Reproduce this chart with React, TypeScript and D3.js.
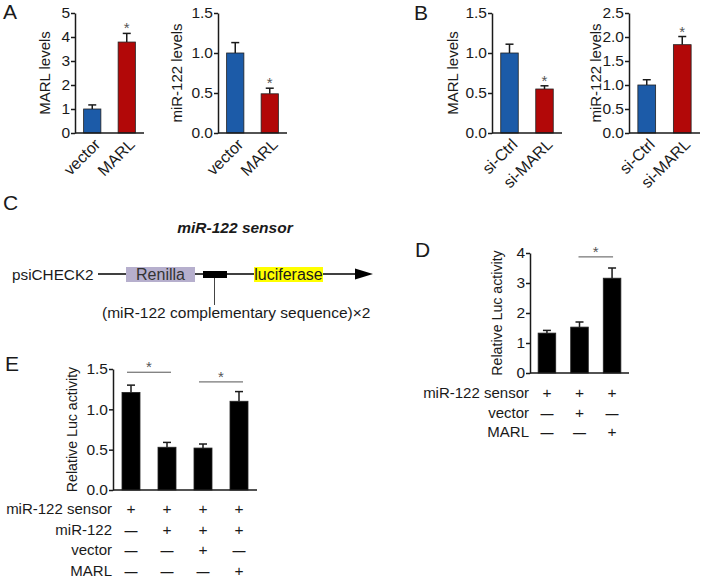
import React, { useEffect, useRef } from 'react';
import * as d3 from 'd3';

const FONT = '"Liberation Sans", Arial, Helvetica, sans-serif';
const INK = '#1a1a1a';
const BLUE = '#1c5ba8';
const RED = '#b20808';

// Panel A: overexpression
const overGroups = ['vector', 'MARL'];
const overMarl = [1.0, 3.79];
const overMarlErr = [0.17, 0.36];
const overMir = [1.0, 0.49];
const overMirErr = [0.13, 0.07];

// Panel B: knockdown
const kdGroups = ['si-Ctrl', 'si-MARL'];
const kdMarl = [1.0, 0.55];
const kdMarlErr = [0.11, 0.04];
const kdMir = [1.0, 1.84];
const kdMirErr = [0.11, 0.17];

// Panel D: luciferase, MARL overexpression
const lucDValues = [1.33, 1.53, 3.16];
const lucDErr = [0.09, 0.17, 0.34];
const lucDRows = ['miR-122 sensor', 'vector', 'MARL'];
const lucDSigns = [
  ['+', '+', '+'],
  ['-', '+', '-'],
  ['-', '-', '+'],
];

// Panel E: luciferase with miR-122
const lucEValues = [1.21, 0.53, 0.52, 1.10];
const lucEErr = [0.09, 0.06, 0.05, 0.12];
const lucERows = ['miR-122 sensor', 'miR-122', 'vector', 'MARL'];
const lucESigns = [
  ['+', '+', '+', '+'],
  ['-', '+', '+', '+'],
  ['-', '-', '+', '-'],
  ['-', '-', '-', '+'],
];

const ticks0to5 = [0, 1, 2, 3, 4, 5];
const ticks0to15 = [0, 0.5, 1.0, 1.5];
const ticks0to25 = [0, 0.5, 1.0, 1.5, 2.0, 2.5];
const ticks0to4 = [0, 1, 2, 3, 4];

interface SigLine { a: number; b: number; level: number; ext: number; }

interface Panel {
  groups?: string[];
  values: number[];
  errors: number[];
  colors: string[];
  stars?: boolean[];
  yMax: number;
  ticks: number[];
  fmt: string;
  left: number;
  right: number;
  top: number;
  bottom: number;
  padInner: number;
  yLabel: string;
  yLabelX: number;
  yLabelSize: number;
  sig?: SigLine[];
  rows?: string[];
  signs?: string[][];
  rowStart?: number;
  rowStep?: number;
}

function drawPanel(root: d3.Selection<SVGSVGElement, unknown, null, undefined>, p: Panel) {
  const g = root.append('g');
  const idx = d3.range(p.values.length);
  const x = d3.scaleBand<number>()
    .domain(idx)
    .range([p.left, p.right])
    .paddingInner(p.padInner)
    .paddingOuter(0.25);
  const y = d3.scaleLinear().domain([0, p.yMax]).range([p.bottom, p.top]);
  const cx = (i: number) => (x(i) || 0) + x.bandwidth() / 2;

  // error bars (upper only)
  g.selectAll('line.err')
    .data(idx)
    .join('line')
    .attr('x1', cx).attr('x2', cx)
    .attr('y1', i => y(p.values[i]))
    .attr('y2', i => y(p.values[i] + p.errors[i]))
    .attr('stroke', INK).attr('stroke-width', 1.5);
  g.selectAll('line.cap')
    .data(idx)
    .join('line')
    .attr('x1', i => cx(i) - 4).attr('x2', i => cx(i) + 4)
    .attr('y1', i => y(p.values[i] + p.errors[i]))
    .attr('y2', i => y(p.values[i] + p.errors[i]))
    .attr('stroke', INK).attr('stroke-width', 1.5);

  // bars
  g.selectAll('rect.bar')
    .data(idx)
    .join('rect')
    .attr('x', i => x(i) || 0)
    .attr('y', i => y(p.values[i]))
    .attr('width', x.bandwidth())
    .attr('height', i => y(0) - y(p.values[i]))
    .attr('fill', i => p.colors[i])
    .attr('stroke', '#222')
    .attr('stroke-width', 0.8);

  // asterisks over bars
  if (p.stars) {
    g.selectAll('text.star')
      .data(idx.filter(i => p.stars![i]))
      .join('text')
      .attr('x', cx)
      .attr('y', i => y(p.values[i] + p.errors[i]))
      .attr('text-anchor', 'middle')
      .attr('font-family', FONT)
      .attr('font-size', 15)
      .attr('fill', '#555')
      .text('*');
  }

  // y axis
  const ax = g.append('g')
    .attr('transform', `translate(${p.left},0)`)
    .call(d3.axisLeft(y).tickValues(p.ticks).tickFormat(d3.format(p.fmt)).tickSize(4).tickSizeOuter(0).tickPadding(1));
  ax.select('.domain').attr('stroke', INK).attr('stroke-width', 1.5);
  ax.selectAll('.tick line').attr('stroke', INK).attr('stroke-width', 1.5);
  ax.selectAll('.tick text')
    .attr('font-family', FONT)
    .attr('font-size', 15.5)
    .attr('fill', INK);

  // x baseline
  g.append('line')
    .attr('x1', p.left).attr('x2', p.right)
    .attr('y1', p.bottom).attr('y2', p.bottom)
    .attr('stroke', INK).attr('stroke-width', 1.5);

  // y label
  g.append('text')
    .attr('transform', `translate(${p.yLabelX},${(p.top + p.bottom) / 2}) rotate(-90)`)
    .attr('text-anchor', 'middle')
    .attr('font-family', FONT)
    .attr('font-size', p.yLabelSize)
    .attr('fill', INK)
    .text(p.yLabel);

  // rotated group labels
  if (p.groups) {
    g.selectAll('text.grp')
      .data(idx)
      .join('text')
      .attr('transform', i => `translate(${cx(i) + 9},${p.bottom + 12.5}) rotate(-45)`)
      .attr('text-anchor', 'end')
      .attr('font-family', FONT)
      .attr('font-size', 16)
      .attr('fill', INK)
      .text(i => p.groups![i]);
  }

  // significance brackets
  if (p.sig) {
    p.sig.forEach(s => {
      const ly = y(s.level);
      g.append('line')
        .attr('x1', cx(s.a) - s.ext).attr('x2', cx(s.b) + s.ext)
        .attr('y1', ly).attr('y2', ly)
        .attr('stroke', '#555').attr('stroke-width', 1);
      g.append('text')
        .attr('x', (cx(s.a) + cx(s.b)) / 2)
        .attr('y', ly)
        .attr('text-anchor', 'middle')
        .attr('font-family', FONT)
        .attr('font-size', 15)
        .attr('fill', '#555')
        .text('*');
    });
  }

  // condition table
  if (p.rows && p.signs) {
    p.rows.forEach((label, r) => {
      const by = (p.rowStart || 0) + r * (p.rowStep || 20);
      g.append('text')
        .attr('x', p.left - 1)
        .attr('y', by)
        .attr('text-anchor', 'end')
        .attr('font-family', FONT)
        .attr('font-size', 15)
        .attr('fill', INK)
        .text(label);
      g.selectAll(`text.sign${r}`)
        .data(idx)
        .join('text')
        .attr('x', cx)
        .attr('y', by)
        .attr('text-anchor', 'middle')
        .attr('font-family', FONT)
        .attr('font-size', i => (p.signs![r][i] === '+' ? 15.5 : 13))
        .attr('font-weight', i => (p.signs![r][i] === '+' ? 'normal' : 'bold'))
        .attr('fill', INK)
        .text(i => (p.signs![r][i] === '+' ? '+' : '\u2014'));
    });
  }
}

const App: React.FC = () => {
  const svgRef = useRef<SVGSVGElement>(null);

  useEffect(() => {
    if (!svgRef.current) return;
    const svg = d3.select(svgRef.current);
    svg.selectAll('*').remove();

    const panels: Panel[] = [
      {
        groups: overGroups, values: overMarl, errors: overMarlErr, colors: [BLUE, RED], stars: [false, true],
        yMax: 5, ticks: ticks0to5, fmt: 'd', left: 75, right: 144, top: 13, bottom: 133,
        padInner: 0.5, yLabel: 'MARL levels', yLabelX: 50, yLabelSize: 15,
      },
      {
        groups: overGroups, values: overMir, errors: overMirErr, colors: [BLUE, RED], stars: [false, true],
        yMax: 1.5, ticks: ticks0to15, fmt: '.1f', left: 218, right: 287, top: 13, bottom: 133,
        padInner: 0.5, yLabel: 'miR-122 levels', yLabelX: 182, yLabelSize: 15,
      },
      {
        groups: kdGroups, values: kdMarl, errors: kdMarlErr, colors: [BLUE, RED], stars: [false, true],
        yMax: 1.5, ticks: ticks0to15, fmt: '.1f', left: 492, right: 562, top: 13, bottom: 133,
        padInner: 0.5, yLabel: 'MARL levels', yLabelX: 458, yLabelSize: 15,
      },
      {
        groups: kdGroups, values: kdMir, errors: kdMirErr, colors: [BLUE, RED], stars: [false, true],
        yMax: 2.5, ticks: ticks0to25, fmt: '.1f', left: 629, right: 700, top: 13, bottom: 133,
        padInner: 0.5, yLabel: 'miR-122 levels', yLabelX: 601, yLabelSize: 15,
      },
      {
        values: lucDValues, errors: lucDErr, colors: lucDValues.map(() => '#000'),
        yMax: 4, ticks: ticks0to4, fmt: 'd', left: 530, right: 629, top: 253, bottom: 373,
        padInner: 0.46, yLabel: 'Relative Luc activity', yLabelX: 502, yLabelSize: 14.2,
        sig: [{ a: 1, b: 2, level: 3.87, ext: 1 }],
        rows: lucDRows, signs: lucDSigns, rowStart: 398, rowStep: 19.5,
      },
      {
        values: lucEValues, errors: lucEErr, colors: lucEValues.map(() => '#000'),
        yMax: 1.5, ticks: ticks0to15, fmt: '.1f', left: 113, right: 257, top: 369, bottom: 490,
        padInner: 0.5, yLabel: 'Relative Luc activity', yLabelX: 77, yLabelSize: 14.2,
        sig: [{ a: 0, b: 1, level: 1.46, ext: 4 }, { a: 2, b: 3, level: 1.34, ext: 4 }],
        rows: lucERows, signs: lucESigns, rowStart: 514, rowStep: 20.7,
      },
    ];
    panels.forEach(p => drawPanel(svg, p));

    // panel letters
    const letters: [string, number, number][] = [
      ['A', 3, 19], ['B', 414, 20], ['C', 3, 210], ['D', 415, 257], ['E', 5, 371],
    ];
    svg.selectAll('text.letter')
      .data(letters)
      .join('text')
      .attr('x', d => d[1]).attr('y', d => d[2])
      .attr('font-family', FONT).attr('font-size', 21).attr('fill', INK)
      .text(d => d[0]);

    // panel C: construct schematic
    const c = svg.append('g');
    const lineY = 274;
    c.append('text')
      .attr('x', 235).attr('y', 233).attr('text-anchor', 'middle')
      .attr('font-family', FONT).attr('font-size', 15.5).attr('font-weight', 'bold').attr('font-style', 'italic')
      .attr('fill', INK).text('miR-122 sensor');
    c.append('text')
      .attr('x', 12).attr('y', lineY + 5.5)
      .attr('font-family', FONT).attr('font-size', 15.3).attr('fill', INK).text('psiCHECK2');
    c.append('line')
      .attr('x1', 98).attr('x2', 360).attr('y1', lineY).attr('y2', lineY)
      .attr('stroke', '#000').attr('stroke-width', 1.5);
    c.append('path')
      .attr('d', `M355,${lineY - 5.5} L373,${lineY} L355,${lineY + 5.5} Z`)
      .attr('fill', '#000');
    c.append('rect')
      .attr('x', 126).attr('y', 267).attr('width', 69).attr('height', 15)
      .attr('fill', '#b6afcd');
    c.append('text')
      .attr('x', 160.5).attr('y', lineY + 5.5).attr('text-anchor', 'middle')
      .attr('font-family', FONT).attr('font-size', 16).attr('fill', '#333').text('Renilla');
    c.append('rect')
      .attr('x', 203).attr('y', 271).attr('width', 24).attr('height', 7)
      .attr('fill', '#000');
    c.append('line')
      .attr('x1', 214.5).attr('x2', 214.5).attr('y1', 278).attr('y2', 305)
      .attr('stroke', '#444').attr('stroke-width', 1);
    c.append('rect')
      .attr('x', 254).attr('y', 267).attr('width', 69).attr('height', 15)
      .attr('fill', '#ffff00');
    c.append('text')
      .attr('x', 288.5).attr('y', lineY + 5.5).attr('text-anchor', 'middle')
      .attr('font-family', FONT).attr('font-size', 16).attr('fill', INK).text('luciferase');
    c.append('text')
      .attr('x', 102).attr('y', 318)
      .attr('font-family', FONT).attr('font-size', 15.5).attr('fill', INK)
      .text('(miR-122 complementary sequence)\u00d72');
  }, []);

  return (
    <svg
      ref={svgRef}
      width={704}
      height={580}
      style={{ position: 'absolute', left: 0, top: 0, background: '#fff' }}
    />
  );
};

export default App;
